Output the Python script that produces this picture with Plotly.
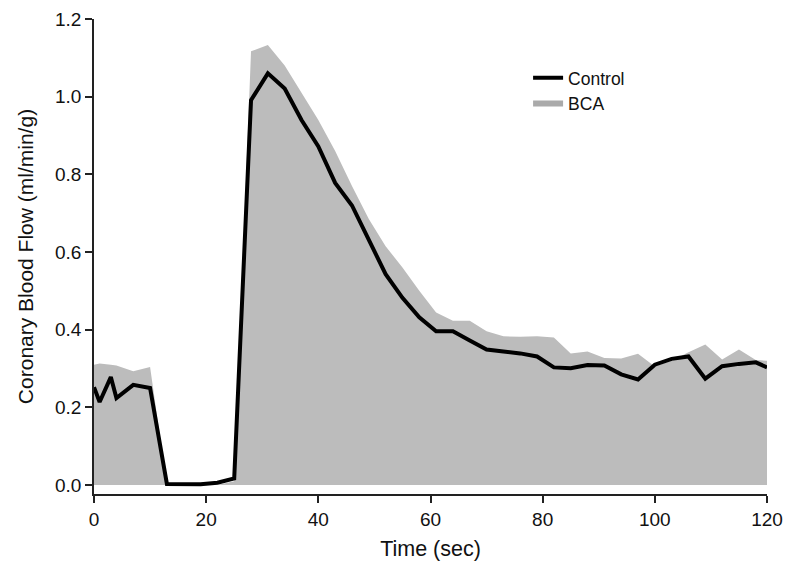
import plotly.graph_objects as go

time_sec = [0, 1, 3, 4, 7, 10, 13, 16, 19, 22, 25, 28, 31, 34, 37, 40, 43, 46, 49, 52, 55, 58,
            61, 64, 67, 70, 73, 76, 79, 82, 85, 88, 91, 94, 97, 100, 103, 106, 109, 112, 115, 118, 120]

control = [0.252, 0.214, 0.278, 0.224, 0.258, 0.250, 0.003, 0.002, 0.002, 0.006, 0.017,
           0.991, 1.060, 1.021, 0.940, 0.872, 0.778, 0.720, 0.630, 0.543, 0.482, 0.432,
           0.396, 0.396, 0.372, 0.349, 0.344, 0.339, 0.331, 0.303, 0.301, 0.309, 0.308,
           0.285, 0.272, 0.310, 0.325, 0.331, 0.274, 0.306, 0.312, 0.316, 0.303]

bca = [0.310, 0.313, 0.310, 0.308, 0.293, 0.304, 0.0, 0.0, 0.0, 0.0, 0.010,
       1.117, 1.133, 1.080, 1.010, 0.940, 0.860, 0.770, 0.685, 0.615, 0.560, 0.500,
       0.444, 0.423, 0.423, 0.396, 0.383, 0.382, 0.383, 0.380, 0.339, 0.344, 0.327,
       0.326, 0.338, 0.305, 0.320, 0.342, 0.362, 0.323, 0.349, 0.322, 0.320]

x_ticks = [0, 20, 40, 60, 80, 100, 120]
y_ticks = [0.0, 0.2, 0.4, 0.6, 0.8, 1.0, 1.2]

FONT = "Liberation Sans, Arial, Helvetica, sans-serif"

fig = go.Figure()

fig.add_trace(go.Scatter(
    x=time_sec, y=bca, mode="none", fill="tozeroy",
    fillcolor="rgb(188,188,188)", showlegend=False, name="BCA",
))
fig.add_trace(go.Scatter(
    x=time_sec, y=control, mode="lines", name="Control",
    line=dict(color="black", width=4), legendrank=1,
))
# legend swatch for BCA
fig.add_trace(go.Scatter(
    x=[None], y=[None], mode="none", fill="toself", name="BCA",
    fillcolor="rgb(170,170,170)", legendrank=2,
))

fig.update_layout(
    width=788, height=572,
    margin=dict(l=94, r=21, t=19, b=78),
    plot_bgcolor="white", paper_bgcolor="white",
    font=dict(family=FONT, size=19, color="#111111"),
    showlegend=True,
    legend=dict(x=0.645, y=0.914, xanchor="left", yanchor="top",
                bgcolor="rgba(0,0,0,0)", font=dict(size=17.5), tracegroupgap=0,
                itemwidth=30),
    xaxis=dict(
        range=[0, 120], tickvals=x_ticks, ticks="outside", ticklen=7, tickwidth=1.5,
        tickcolor="#222222", showline=True, linecolor="#222222", linewidth=1.5,
        showgrid=False, zeroline=False, automargin=False, ticklabeloverflow="allow",
        title=dict(text="Time (sec)", font=dict(size=21.5), standoff=12),
    ),
    yaxis=dict(
        range=[-0.023, 1.2], tickvals=y_ticks, tickformat=".1f", ticks="outside",
        ticklen=7, tickwidth=1.5, tickcolor="#222222", showline=True,
        linecolor="#222222", linewidth=1.5, showgrid=False, zeroline=False,
        automargin=False,
        title=dict(text="Coronary Blood Flow (ml/min/g)", font=dict(size=21), standoff=16),
    ),
)

fig.write_html(
    "out.html",
    config={"displayModeBar": False},
    post_script="document.body.style.margin='0';document.body.style.overflow='hidden';",
)
